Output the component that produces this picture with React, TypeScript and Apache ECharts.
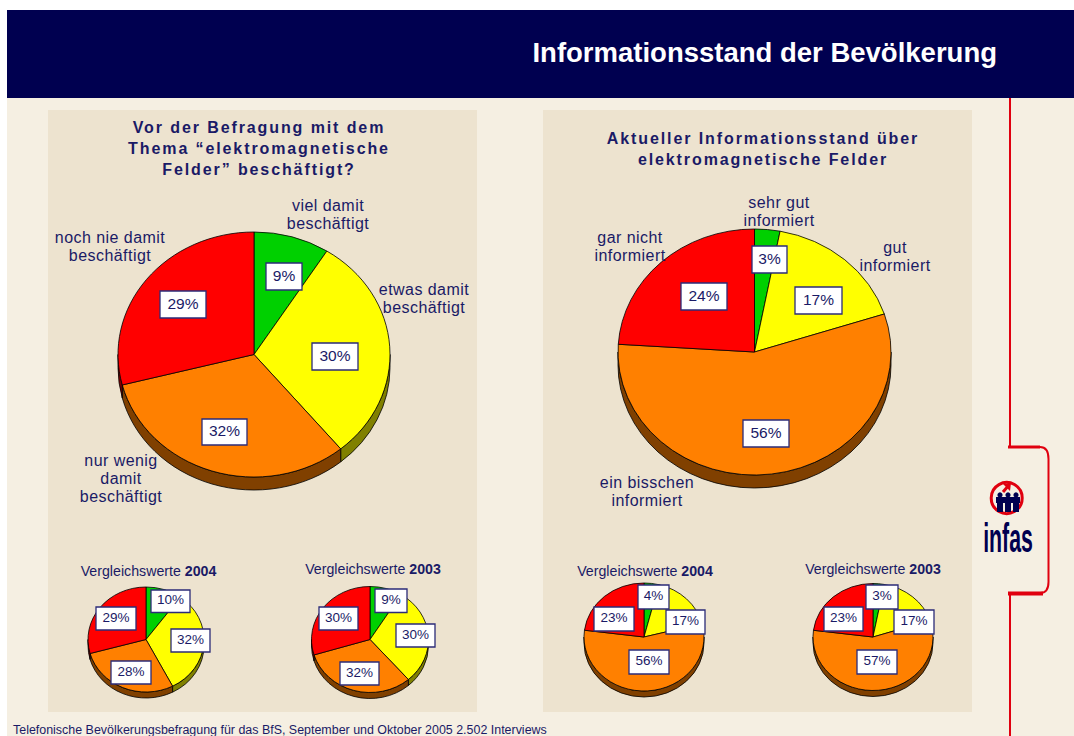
import React, { useEffect, useRef } from "react";
import * as echarts from "echarts";

const pageTitle = "Informationsstand der Bevölkerung";
const footerText = "Telefonische Bevölkerungsbefragung für das BfS, September und Oktober 2005 2.502 Interviews";

const leftTitle = "Vor der Befragung mit dem\nThema “elektromagnetische\nFelder” beschäftigt?";
const rightTitle = "Aktueller Informationsstand über\nelektromagnetische Felder";

const leftCategories = ["viel damit\nbeschäftigt", "etwas damit\nbeschäftigt", "nur wenig\ndamit\nbeschäftigt", "noch nie damit\nbeschäftigt"];
const rightCategories = ["sehr gut\ninformiert", "gut\ninformiert", "ein bisschen\ninformiert", "gar nicht\ninformiert"];

const left2005 = [9, 30, 32, 29];
const left2004 = [10, 32, 28, 29];
const left2003 = [9, 30, 32, 30];
const right2005 = [3, 17, 56, 24];
const right2004 = [4, 17, 56, 23];
const right2003 = [3, 17, 57, 23];

const topColors = ["#00D000", "#FFFF00", "#FF8000", "#FF0000"];
const sideColors = ["#006800", "#808000", "#804000", "#800000"];
const INK = "#1A1A66";
const FONT = "'Liberation Sans', Arial, sans-serif";

type Pie = {
  values: number[];
  cx: number; cy: number; rx: number; ry: number; depth: number;
  boxes: number[][]; // x0, y0, x1, y1 of each value label
  fontSize: number;
  cats?: string[];
  catPos?: number[][];
};

const pies: Pie[] = [
  {
    values: left2005, cx: 254, cy: 354.5, rx: 136, ry: 122.5, depth: 13, fontSize: 15.5,
    boxes: [[266, 263, 302, 290], [312, 343, 358, 370], [202, 419, 247, 445], [160, 291, 206, 318]],
    cats: leftCategories, catPos: [[328, 214], [424, 298], [121, 478], [110, 246]],
  },
  {
    values: left2004, cx: 146, cy: 639.5, rx: 58, ry: 52.5, depth: 6, fontSize: 13.5,
    boxes: [[151, 590, 190, 612.5], [171, 629, 210, 652], [111, 661, 151, 684], [96, 607, 136, 630]],
  },
  {
    values: left2003, cx: 370, cy: 639.5, rx: 58.5, ry: 53, depth: 6, fontSize: 13.5,
    boxes: [[375, 589, 407, 612.5], [396, 624, 435, 647], [340, 662, 379, 685], [319, 607, 358, 630]],
  },
  {
    values: right2005, cx: 754.5, cy: 352, rx: 136.5, ry: 123, depth: 13, fontSize: 15.5,
    boxes: [[752, 246, 787, 273], [795, 287, 842, 314], [743, 420, 789, 447], [681, 283, 727, 310]],
    cats: rightCategories, catPos: [[779, 211], [895, 256], [647, 491], [630, 246]],
  },
  {
    values: right2004, cx: 644, cy: 637, rx: 60, ry: 54, depth: 6, fontSize: 13.5,
    boxes: [[638, 585, 669, 609], [666, 610, 705, 634], [629, 650, 669, 674], [594, 607, 634, 631]],
  },
  {
    values: right2003, cx: 873, cy: 637, rx: 60, ry: 53.5, depth: 6, fontSize: 13.5,
    boxes: [[866, 585, 898, 609], [894, 610, 934, 634], [857, 650, 897, 674], [824, 607, 863, 631]],
  },
];

function slicePaths(p: Pie, i: number) {
  const total = p.values.reduce((a, b) => a + b, 0);
  const before = p.values.slice(0, i).reduce((a, b) => a + b, 0);
  const a0 = (before / total) * Math.PI * 2;
  const a1 = ((before + p.values[i]) / total) * Math.PI * 2;
  const pt = (a: number, dy = 0) =>
    `${(p.cx + p.rx * Math.sin(a)).toFixed(2)} ${(p.cy - p.ry * Math.cos(a) + dy).toFixed(2)}`;
  const large = a1 - a0 > Math.PI ? 1 : 0;
  const top = `M ${p.cx} ${p.cy} L ${pt(a0)} A ${p.rx} ${p.ry} 0 ${large} 1 ${pt(a1)} Z`;
  const lo = Math.max(a0, Math.PI / 2);
  const hi = Math.min(a1, (Math.PI * 3) / 2);
  const side =
    hi > lo
      ? `M ${pt(lo)} A ${p.rx} ${p.ry} 0 0 1 ${pt(hi)} L ${pt(hi, p.depth)} A ${p.rx} ${p.ry} 0 0 0 ${pt(lo, p.depth)} Z`
      : null;
  return { top, side };
}

function pieSeries(p: Pie) {
  return {
    type: "custom",
    coordinateSystem: "none",
    silent: true,
    data: p.values,
    renderItem: (params: any) => {
      const i = params.dataIndex;
      const { top, side } = slicePaths(p, i);
      const [x0, y0, x1, y1] = p.boxes[i];
      const children: any[] = [];
      if (side) {
        children.push({
          type: "path",
          shape: { pathData: side },
          style: { fill: sideColors[i], stroke: "#000", lineWidth: 0.8 },
        });
      }
      children.push({
        type: "path",
        shape: { pathData: top },
        style: { fill: topColors[i], stroke: "#000", lineWidth: 0.8 },
      });
      children.push({
        type: "rect",
        z2: 20,
        shape: { x: x0, y: y0, width: x1 - x0, height: y1 - y0 },
        style: { fill: "#fff", stroke: "#2B2B78", lineWidth: 1.3 },
      });
      children.push({
        type: "text",
        z2: 21,
        style: {
          text: `${p.values[i]}%`,
          x: (x0 + x1) / 2,
          y: (y0 + y1) / 2 - 1.5,
          align: "center",
          verticalAlign: "middle",
          fill: INK,
          fontSize: p.fontSize,
          fontFamily: FONT,
        },
      });
      if (p.cats && p.catPos) {
        children.push({
          type: "text",
          z2: 22,
          style: {
            text: p.cats[i],
            x: p.catPos[i][0],
            y: p.catPos[i][1],
            align: "center",
            verticalAlign: "middle",
            fill: INK,
            fontSize: 16,
            lineHeight: 18,
            fontFamily: FONT,
          },
        });
      }
      return { type: "group", children };
    },
  };
}

function compareTitle(year: string, x: number, y: number) {
  return {
    text: `Vergleichswerte {b|${year}}`,
    left: x,
    top: y,
    textAlign: "center",
    textVerticalAlign: "middle",
    padding: 0,
    textStyle: {
      fontSize: 14.2,
      fontWeight: "normal",
      color: INK,
      fontFamily: FONT,
      rich: { b: { fontSize: 14.2, fontWeight: "bold", color: INK, fontFamily: FONT } },
    },
  };
}

function headTitle(text: string, x: number, y: number) {
  return {
    text,
    left: x,
    top: y,
    textAlign: "center",
    padding: 0,
    textStyle: { fontSize: 16, fontWeight: "bold", color: INK, fontFamily: FONT, lineHeight: 21 },
  };
}

const RED = "#E0000F";
const NAVY = "#000050";
const redLine = (x1: number, y1: number, x2: number, y2: number, w: number) => ({
  type: "line",
  shape: { x1, y1, x2, y2 },
  style: { stroke: RED, lineWidth: w },
});

function backdrop() {
  const rect = (x: number, y: number, width: number, height: number, fill: string) => ({
    type: "rect",
    shape: { x, y, width, height },
    style: { fill },
  });
  return [
    rect(7, 98, 1067, 638, "#F5EFE2"),
    rect(7, 10, 1067, 88, NAVY),
    rect(48, 110, 429, 602, "#EDE3CF"),
    rect(543, 110, 429, 602, "#EDE3CF"),
    redLine(1010, 98, 1010, 447, 2),
    redLine(1008, 447, 1040, 447, 3),
    {
      type: "bezierCurve",
      shape: { x1: 1040, y1: 447, cpx1: 1046, cpy1: 447, cpx2: 1048.5, cpy2: 451, x2: 1048.5, y2: 459 },
      style: { stroke: RED, lineWidth: 2, fill: "none" },
    },
    redLine(1048.5, 459, 1048.5, 582, 2),
    {
      type: "bezierCurve",
      shape: { x1: 1048.5, y1: 582, cpx1: 1048.5, cpy1: 589, cpx2: 1046, cpy2: 593, x2: 1040, y2: 593 },
      style: { stroke: RED, lineWidth: 2, fill: "none" },
    },
    redLine(1008, 593.5, 1043, 593.5, 4),
    redLine(1010, 595, 1010, 736, 2),
    // logo
    { type: "circle", shape: { cx: 1006.7, cy: 498, r: 15.5 }, style: { fill: "none", stroke: RED, lineWidth: 3 } },
    redLine(1003, 492, 1009, 485, 3),
    { type: "polygon", shape: { points: [[1003, 484], [1011, 483], [1010, 491]] }, style: { fill: RED } },
    rect(996, 497, 24, 6, NAVY),
    ...[1000, 1008, 1016].map((cx) => ({
      type: "group",
      children: [
        { type: "circle", shape: { cx, cy: 495, r: 2.6 }, style: { fill: NAVY } },
        { type: "rect", shape: { x: cx - 3, y: 498, width: 6, height: 14 }, style: { fill: NAVY } },
      ],
    })),
    {
      type: "text",
      x: 1008,
      y: 538,
      scaleX: 0.52,
      style: {
        text: "infas",
        align: "center",
        verticalAlign: "middle",
        fill: NAVY,
        fontSize: 41,
        fontWeight: "bold",
        fontFamily: FONT,
      },
    },
    {
      type: "text",
      x: 997,
      y: 52,
      style: {
        text: pageTitle,
        align: "right",
        verticalAlign: "middle",
        fill: "#fff",
        fontSize: 27.5,
        fontWeight: "bold",
        fontFamily: FONT,
      },
    },
    {
      type: "text",
      x: 13,
      y: 730,
      style: {
        text: footerText,
        align: "left",
        verticalAlign: "middle",
        fill: INK,
        fontSize: 12.45,
        fontFamily: FONT,
      },
    },
  ];
}

const trackedLines = [...leftTitle.split("\n"), ...rightTitle.split("\n")];
const looseLines = [...leftCategories, ...rightCategories].flatMap((c) => c.split("\n"));

export default function App() {
  const ref = useRef<HTMLDivElement>(null);
  useEffect(() => {
    document.body.style.margin = "0";
    const chart = echarts.init(ref.current!, undefined, { renderer: "svg" });
    chart.setOption({
      animation: false,
      backgroundColor: "#fff",
      title: [
        headTitle(leftTitle, 259, 117),
        headTitle(rightTitle, 763, 128),
        compareTitle("2004", 148.5, 571),
        compareTitle("2003", 373, 569),
        compareTitle("2004", 645, 571),
        compareTitle("2003", 873, 569),
      ],
      graphic: { elements: backdrop() },
      series: pies.map(pieSeries),
    });
    ref.current!.querySelectorAll("text").forEach((t) => {
      const line = (t.textContent || "").trim();
      if (trackedLines.includes(line)) {
        (t as SVGTextElement).style.letterSpacing = "1.9px";
      } else if (looseLines.includes(line)) {
        (t as SVGTextElement).style.letterSpacing = "0.45px";
      }
    });
    return () => chart.dispose();
  }, []);
  return <div ref={ref} style={{ width: 1074, height: 736, overflow: "hidden" }} />;
}
